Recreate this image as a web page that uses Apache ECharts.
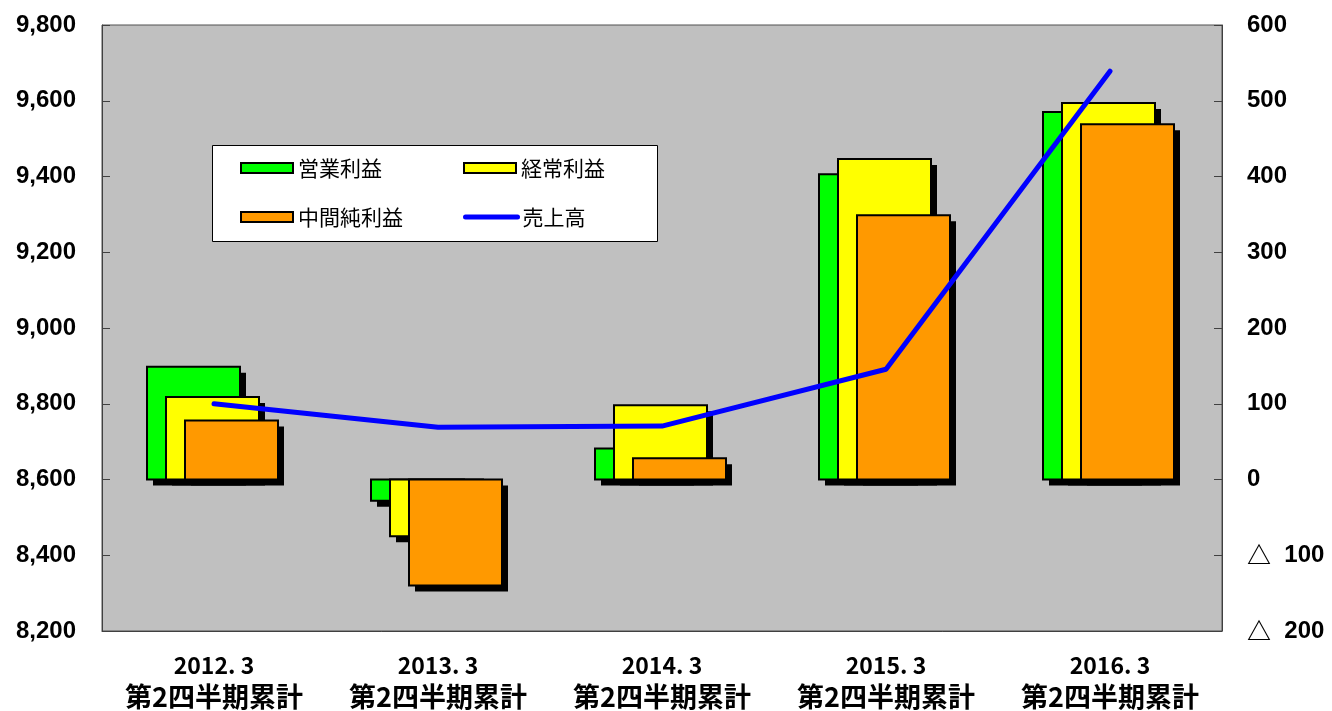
<!DOCTYPE html>
<html>
<head>
<meta charset="utf-8">
<script src="https://cdn.jsdelivr.net/npm/echarts@6/dist/echarts.min.js"></script>
<style>html,body{margin:0;padding:0;background:#fff}#c{width:1332px;height:711px}</style>
</head>
<body>
<div id="c"></div>
<script>
const categories = ['2012. 3', '2013. 3', '2014. 3', '2015. 3', '2016. 3'];
const periodLabel = '第2四半期累計';
const operatingProfit = [149, -28, 41, 403, 485];   // 営業利益
const ordinaryProfit = [109, -75, 98, 423, 497];    // 経常利益
const netIncome = [78, -140, 28, 349, 469];         // 中間純利益
const sales = [8800, 8738, 8741, 8891, 9678];       // 売上高
const leftAxis = { min: 8200, max: 9800, interval: 200 };
const rightAxis = { min: -200, max: 600, interval: 100 };

const chart = echarts.init(document.getElementById('c'), null, { renderer: 'canvas' });

function profitSeries(name, values, color, slot) {
  return {
    name: name, type: 'custom', yAxisIndex: 1, z: 2,
    data: values.map((v, i) => [i, v]),
    encode: { x: 0, y: 1 },
    itemStyle: { color: color, borderColor: '#000', borderWidth: 2 },
    renderItem: function (params, api) {
      const cat = api.value(0), val = api.value(1);
      const base = api.coord([cat, 0]);
      const tip = api.coord([cat, val]);
      const band = api.size([1, 0])[0];
      const w = band * 93 / 224;
      const step = band * 19 / 224;
      const cx = base[0] + (slot - 1) * step - 1.5;
      const x = cx - w / 2;
      const y = Math.min(base[1], tip[1]);
      const h = Math.abs(base[1] - tip[1]);
      return {
        type: 'group',
        children: [
          { type: 'rect', shape: { x: x + 6, y: y + 6, width: w, height: h }, style: { fill: '#000' } },
          { type: 'rect', shape: { x: x, y: y, width: w, height: h }, style: { fill: color, stroke: '#000', lineWidth: 2 } }
        ]
      };
    }
  };
}

const numFont = { fontFamily: 'Liberation Sans', fontWeight: 'bold', fontSize: 24, color: '#000' };
const legendCommon = {
  itemWidth: 52, itemHeight: 10, itemGap: 35, z: 20, padding: 0,
  textStyle: { fontFamily: 'Noto Sans CJK JP', fontSize: 21, color: '#000', width: 130, lineHeight: 24 },
  itemStyle: { borderColor: '#000', borderWidth: 2 }
};
chart.setOption({
  animation: false,
  backgroundColor: '#fff',
  grid: { left: 102, right: 110, top: 25, bottom: 80, show: true, backgroundColor: '#c0c0c0', borderColor: '#505050', borderWidth: 1 },
  graphic: [{
    type: 'rect', z: 10, left: 212, top: 145,
    shape: { width: 445, height: 96 },
    style: { fill: '#fff', stroke: '#000', lineWidth: 1 }
  }],
  legend: [
    Object.assign({}, legendCommon, { left: 240, top: 156, data: [{ name: '営業利益', icon: 'rect' }, { name: '経常利益', icon: 'rect' }] }),
    Object.assign({}, legendCommon, { left: 240, top: 205, data: [
      { name: '中間純利益', icon: 'rect' },
      { name: '売上高', itemStyle: { color: 'rgba(0,0,0,0)', borderColor: 'rgba(0,0,0,0)', borderWidth: 0 },
        lineStyle: { color: '#0000ff', width: 5, cap: 'round' } }
    ] })
  ],
  xAxis: {
    type: 'category', data: categories, boundaryGap: true,
    axisLine: { onZero: false, lineStyle: { color: '#404040', width: 1 } },
    axisTick: { inside: true, length: 8, lineStyle: { color: '#404040' } },
    axisLabel: {
      margin: 19,
      formatter: (v) => '{a|' + v + '}\n{b|' + periodLabel + '}',
      rich: {
        a: { fontFamily: 'Noto Sans CJK JP', fontWeight: 'bold', fontSize: 23, lineHeight: 31, color: '#000' },
        b: { fontFamily: 'Noto Sans CJK JP', fontWeight: 'bold', fontSize: 27, lineHeight: 31, color: '#000' }
      }
    }
  },
  yAxis: [
    {
      type: 'value', position: 'left', min: leftAxis.min, max: leftAxis.max, interval: leftAxis.interval,
      splitLine: { show: false },
      axisLine: { show: true, lineStyle: { color: '#404040' } },
      axisTick: { show: true, inside: true, length: 8, lineStyle: { color: '#404040' } },
      axisLabel: Object.assign({ margin: 26, formatter: (v) => v.toLocaleString('en-US') }, numFont)
    },
    {
      type: 'value', position: 'right', min: rightAxis.min, max: rightAxis.max, interval: rightAxis.interval,
      splitLine: { show: false },
      axisLine: { show: true, lineStyle: { color: '#404040' } },
      axisTick: { show: true, inside: true, length: 8, lineStyle: { color: '#404040' } },
      axisLabel: Object.assign({
        margin: 25,
        formatter: (v) => v < 0 ? '{t|△}{n|  ' + Math.abs(v) + '}' : '{n|' + v + '}',
        rich: {
          t: { fontFamily: 'Noto Sans CJK JP', fontWeight: 'bold', fontSize: 24, color: '#000' },
          n: { fontFamily: 'Liberation Sans', fontWeight: 'bold', fontSize: 24, color: '#000' }
        }
      }, numFont)
    }
  ],
  series: [
    profitSeries('営業利益', operatingProfit, '#00ff00', 0),
    profitSeries('経常利益', ordinaryProfit, '#ffff00', 1),
    profitSeries('中間純利益', netIncome, '#ff9900', 2),
    { name: '売上高', type: 'line', yAxisIndex: 0, data: sales, z: 5, symbol: 'none', showSymbol: false,
      lineStyle: { color: '#0000ff', width: 5, cap: 'round', join: 'round' }, itemStyle: { color: '#0000ff' } }
  ]
});
</script>
</body>
</html>
